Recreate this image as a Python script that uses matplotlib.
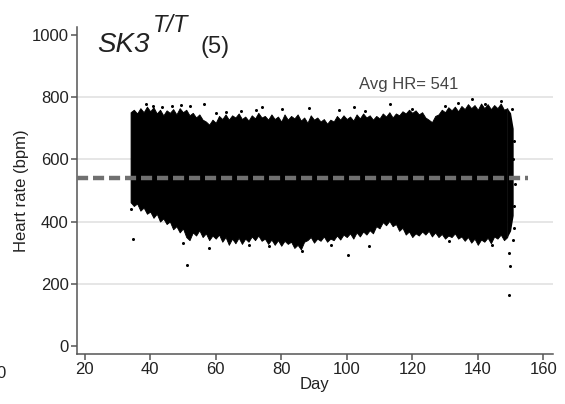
import matplotlib
matplotlib.use("Agg")
import matplotlib.pyplot as plt

plt.rcParams["font.family"] = ["Liberation Sans", "DejaVu Sans"]
plt.rcParams["font.size"] = 12

# dense band of heart-rate samples, read as a per-day envelope (bpm)
days = list(range(34, 150))
hr_high = [752, 760, 748, 765, 752, 770, 755, 768, 748, 760, 742, 758, 750,
           762, 745, 765, 752, 760, 742, 750, 735, 745, 728, 722, 712, 728,
           718, 740, 730, 745, 728, 742, 735, 748, 730, 738, 725, 742, 732,
           750, 735, 740, 728, 745, 730, 738, 722, 745, 728, 740, 732, 745,
           725, 735, 718, 742, 728, 735, 722, 730, 715, 728, 722, 740, 728,
           742, 730, 738, 725, 745, 732, 748, 735, 742, 728, 740, 732, 748,
           738, 752, 735, 748, 742, 755, 748, 760, 750, 758, 745, 752, 735,
           728, 720, 740, 745, 760, 752, 768, 758, 770, 755, 772, 762, 778,
           765, 775, 760, 780, 765, 778, 762, 775, 765, 780, 760, 765]
hr_low = [462, 450, 458, 435, 445, 425, 432, 412, 425, 400, 410, 392, 400,
          375, 385, 365, 378, 350, 340, 365, 355, 372, 350, 362, 340, 355,
          345, 358, 335, 350, 325, 345, 330, 348, 328, 345, 335, 352, 340,
          355, 338, 345, 328, 342, 325, 340, 322, 338, 328, 335, 315, 325,
          310, 335, 340, 350, 332, 345, 338, 352, 335, 345, 340, 355, 342,
          358, 350, 362, 345, 365, 352, 368, 358, 372, 362, 385, 378, 398,
          388, 402, 385, 392, 370, 380, 358, 368, 350, 362, 355, 368, 358,
          370, 352, 365, 350, 360, 345, 355, 350, 362, 345, 352, 338, 350,
          332, 345, 325, 342, 335, 348, 330, 352, 345, 358, 340, 350]

# thin tail at the end of the recording
tail_days = [149, 150, 150.8]
tail_low = [350, 370, 420]
tail_high = [765, 750, 700]

# isolated samples around the band edges and outliers
spk_days = [38.8, 40.8, 43.7, 46.8, 49.4, 52.0, 56.5, 60.1, 63.1, 67.7,
            72.3, 74.2, 80.3, 88.5, 97.6, 102.2, 105.7, 113.3, 119.9, 130.0,
            134.1, 138.1, 142.3, 147.2, 150.3,
            34.2, 49.9, 58.0, 70.2, 76.3, 86.4, 95.1, 106.7, 131.1, 144.2,
            149.4, 149.8, 150.9, 151.2, 151.0, 151.3, 150.6, 151.1,
            34.6, 51.3, 100.3, 149.4]
spk_hr = [777, 772, 768, 772, 774, 772, 777, 748, 752, 756,
          759, 768, 761, 764, 759, 768, 756, 777, 761, 772,
          783, 794, 777, 788, 761,
          439, 332, 316, 326, 320, 304, 326, 320, 336, 326,
          300, 256, 342, 380, 450, 520, 600, 660,
          345, 261, 293, 165]

avg_hr = 541
xticks = [20, 40, 60, 80, 100, 120, 140, 160]
yticks = [0, 200, 400, 600, 800, 1000]

fig = plt.figure(figsize=(5.65, 4.04), dpi=100)
ax = fig.add_axes([0.136, 0.124, 0.843, 0.809])

for y in [200, 400, 600, 800]:
    ax.axhline(y, color="#e2e2e2", lw=1.2, zorder=0)

ax.fill_between(days, hr_low, hr_high, color="black", lw=0.6,
                edgecolor="black", zorder=2)
ax.fill_between(tail_days, tail_low, tail_high, color="black", lw=0,
                zorder=2)
ax.plot(spk_days, spk_hr, ls="none", marker="o", ms=2.2, color="black",
        mec="none", zorder=2)

ax.hlines(avg_hr, 17.6, 155.4, colors="#707070", lw=3.2,
          linestyles=(0, (2.5, 1.1)), zorder=3)
ax.text(119, 842, "Avg HR= %d" % avg_hr, ha="center", va="center",
        color="#444444", fontsize=12)

ax.set_xlim(17.6, 163)
ax.set_ylim(-26, 1026)
ax.set_xticks(xticks)
ax.set_yticks(yticks)
ax.set_xlabel("Day", labelpad=0, color="#222222")
ax.set_ylabel("Heart rate (bpm)", labelpad=2, color="#222222")

for s in ["top", "right"]:
    ax.spines[s].set_visible(False)
for s in ["left", "bottom"]:
    ax.spines[s].set_color("#555555")
    ax.spines[s].set_linewidth(1.1)
ax.tick_params(colors="#555555", length=4, width=1.1, pad=2,
               labelcolor="#222222", labelsize=12)

# panel title
fig.text(97 / 565, 1 - 52 / 404, "SK3", style="italic", fontsize=20,
         va="baseline", color="#222222")
fig.text(153 / 565, 1 - 32 / 404, "T/T", style="italic", fontsize=17,
         va="baseline", color="#222222")
fig.text(200 / 565, 1 - 53 / 404, "(5)", fontsize=17, va="baseline",
         color="#222222")
# edge of the neighbouring panel
fig.text(6 / 565, 1 - 378 / 404, "0", ha="right", va="baseline",
         fontsize=12, color="#222222")

fig.savefig("out.png", dpi=100)
